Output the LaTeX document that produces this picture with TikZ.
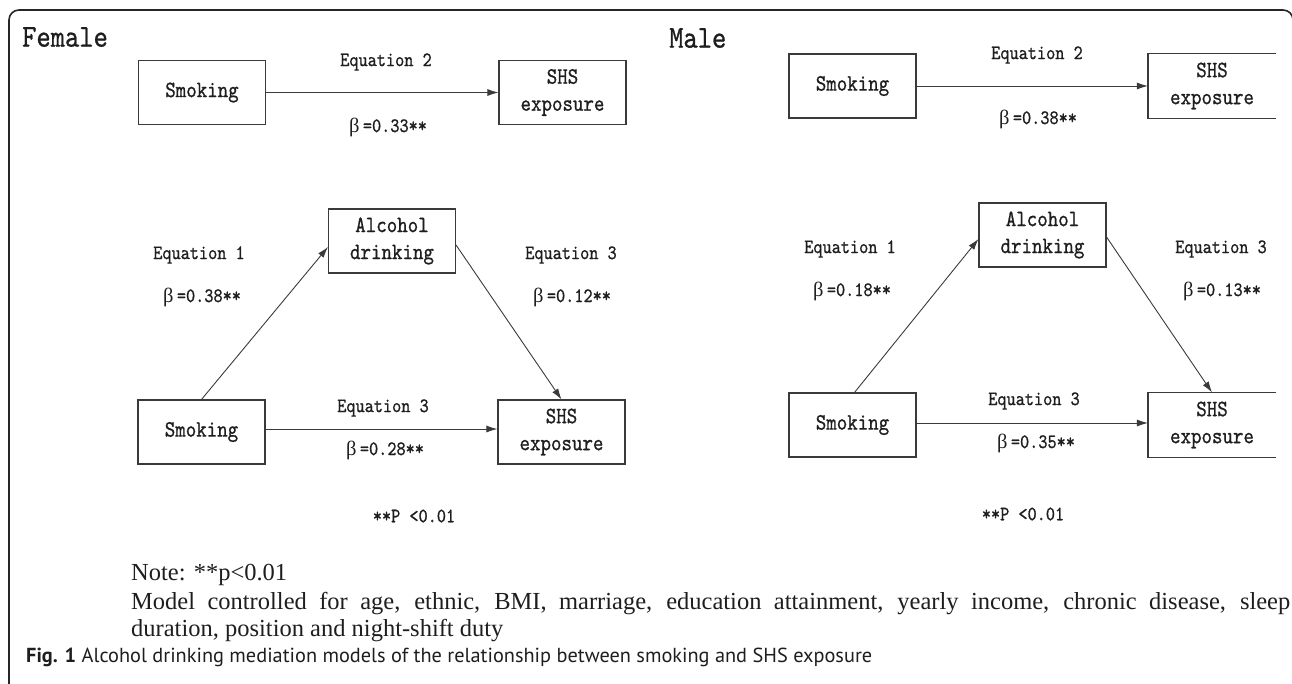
\documentclass[tikz,border=0pt]{standalone}
\usepackage{fontspec}
\usepackage{graphicx}
\setmainfont{Liberation Serif}
\newfontfamily\capfont{PT Sans}
\newfontfamily\grk{Liberation Serif}
\newfontfamily\labfont{lmmono10-regular.otf}[FakeStretch=0.85,FakeBold=0.8]
\usetikzlibrary{arrows.meta}
\definecolor{ink}{HTML}{1E1E1E}
\definecolor{edge}{HTML}{3A3A3A}
\newcommand\betalbl[1]{{\grk β}\,=#1**}
\tikzset{
  box/.style={draw=edge, line width=1.1pt, minimum width=127pt, minimum height=64pt, inner sep=0pt, align=center, font=\labfont\fontsize{23.5}{27}\selectfont, text=ink},
  openbox/.style={box, draw=none},
  lbl/.style={font=\labfont\fontsize{20.5}{23}\selectfont, text=ink, inner sep=0pt},
  big/.style={font=\labfont\fontsize{32}{34}\selectfont, text=ink, inner sep=0pt},
  arr/.style={draw=edge, line width=0.9pt, -{Latex[length=11pt,width=7pt]}},
  edgeline/.style={draw=edge, line width=1.1pt},
  notefont/.style={font=\fontsize{24.5}{28}\selectfont, text=ink, inner sep=0pt, anchor=base west},
}
\begin{document}
\begin{tikzpicture}[x=1pt,y=-1pt]
\useasboundingbox (0,0) rectangle (1292,683);
% frame
\draw[draw=black!85, line width=1.6pt, rounded corners=10pt] (9,690) -- (9,10) -- (1293,10) -- (1293,60);

% ---------- Female ----------
\node[big, anchor=west] (ftitle) at (22,37) {Female};
\node[box] (fs1) at (202,92.5) {Smoking};
\node[box] (fh1) at (562.5,92.5) {SHS\\exposure};
\node[lbl] (fe2) at (386,62) {Equation 2};
\node[lbl] (fb2) at (388,127) {\betalbl{0.33}};
\draw[arr] (fs1) -- (fh1);

\node[box] (fa) at (392,241) {Alcohol\\drinking};
\node[box] (fs2) at (201.5,432) {Smoking};
\node[box] (fh2) at (561.5,432) {SHS\\exposure};
\node[lbl] (fe1) at (199,255) {Equation 1};
\node[lbl] (fb1) at (202,297) {\betalbl{0.38}};
\node[lbl] (fe3r) at (571,255) {Equation 3};
\node[lbl] (fb3r) at (572,297) {\betalbl{0.12}};
\node[lbl] (fe3b) at (383,408) {Equation 3};
\node[lbl] (fb3b) at (385,450) {\betalbl{0.28}};
\draw[arr] (fs2.north) -- ([yshift=-6pt]fa.west);
\draw[arr] ([yshift=-4pt]fa.east) -- (fh2.north);
\draw[arr] ([yshift=3pt]fs2.east) -- ([yshift=3pt]fh2.west);
\node[lbl] (fp) at (414,516) {**P <0.01};

% ---------- Male ----------
\node[big, anchor=west] (mtitle) at (669,38) {Male};
\node[box] (ms1) at (852.5,86) {Smoking};
\node[openbox] (mh1) at (1212,86) {SHS\\exposure};
\draw[edgeline] (mh1.north east) -- (mh1.north west) -- (mh1.south west) -- (mh1.south east);
\node[lbl] (me2) at (1037,55) {Equation 2};
\node[lbl] (mb2) at (1038,119) {\betalbl{0.38}};
\draw[arr] (ms1) -- (mh1);

\node[box] (ma) at (1042.5,235) {Alcohol\\drinking};
\node[box] (ms2) at (852.5,425) {Smoking};
\node[openbox] (mh2) at (1212,425) {SHS\\exposure};
\draw[edgeline] (mh2.north east) -- (mh2.north west) -- (mh2.south west) -- (mh2.south east);
\node[lbl] (me1) at (850,249) {Equation 1};
\node[lbl] (mb1) at (852,291) {\betalbl{0.18}};
\node[lbl] (me3r) at (1221,249) {Equation 3};
\node[lbl] (mb3r) at (1222,291) {\betalbl{0.13}};
\node[lbl] (me3b) at (1034,401) {Equation 3};
\node[lbl] (mb3b) at (1036,443) {\betalbl{0.35}};
\draw[arr] ([xshift=2pt]ms2.north) -- ([yshift=-4pt]ma.west);
\draw[arr] ([yshift=-2pt]ma.east) -- (mh2.north);
\draw[arr] ([yshift=2pt]ms2.east) -- ([yshift=2pt]mh2.west);
\node[lbl] (mp) at (1023,514) {**P <0.01};

% ---------- Notes ----------
\node[notefont] (note) at (131,580) {Note: **p<0.01};
\node[notefont] (model) at (131,609) {\makebox[1159pt][s]{Model controlled for age, ethnic, BMI, marriage, education attainment, yearly income, chronic disease, sleep}};
\node[notefont] (dur) at (131,636) {duration, position and night-shift duty};
\node[anchor=base west, inner sep=0pt, text=ink, font=\capfont\fontsize{20}{24}\selectfont] (cap) at (26,662) {\resizebox{846pt}{!}{\textbf{Fig. 1} Alcohol drinking mediation models of the relationship between smoking and SHS exposure}};
\end{tikzpicture}
\end{document}
